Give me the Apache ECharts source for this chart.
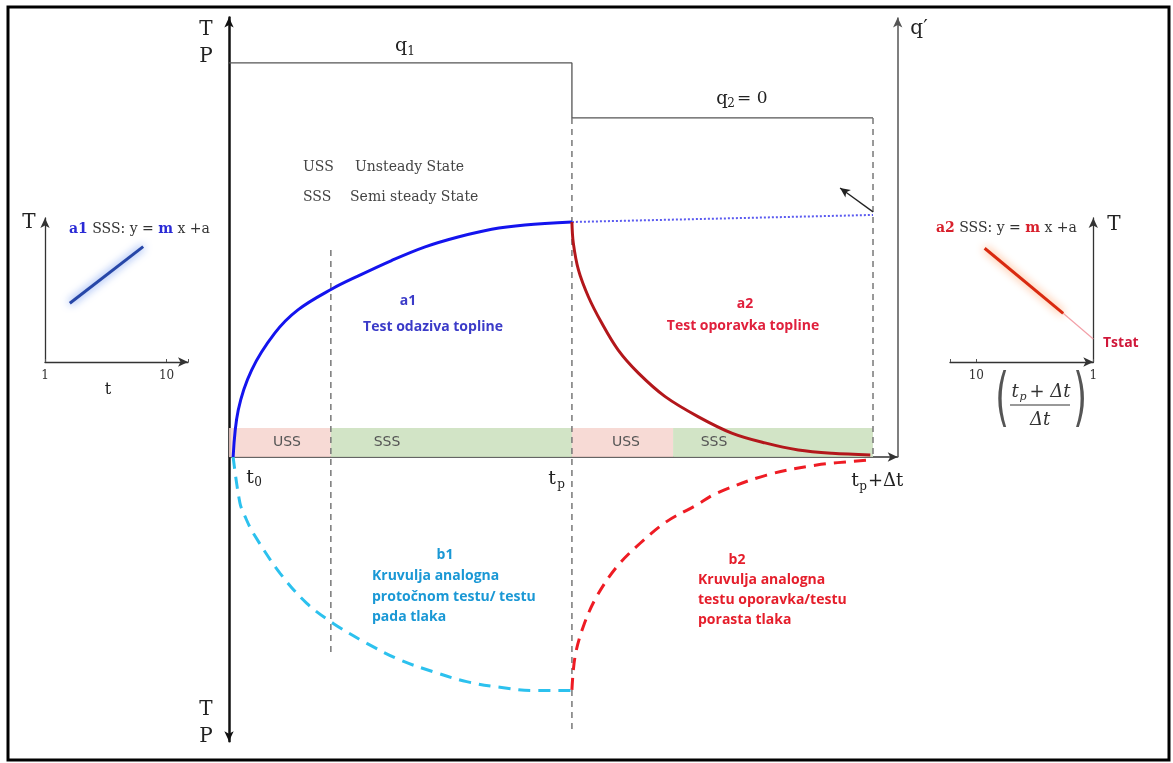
<!DOCTYPE html>
<html><head><meta charset="utf-8">
<script src="https://cdn.jsdelivr.net/npm/echarts@6/dist/echarts.min.js"></script>
<style>html,body{margin:0;padding:0;background:#fff}#c{width:1173px;height:763px}</style>
</head><body><div id="c"></div><script>
// ---------------- data (schematic units) ----------------
const T_P = 100;            // end of heating (tp)
const T_END = 187.8;        // tp + Δt
const T_SSS1 = 29.7;        // USS -> SSS during heating
const T_SSS2 = 129.5;       // USS -> SSS during recovery
const Q1_LEVEL = 167.7;
const Q2_LEVEL = 144.3;
const BAND_H = 12.3;

const qSchedule = [[0, Q1_LEVEL], [T_P, Q1_LEVEL], [T_P, Q2_LEVEL], [T_END, Q2_LEVEL]];
const dividerSSS = [[T_SSS1, 88.1], [T_SSS1, -83.4]];
const dividerTp = [[T_P, Q2_LEVEL], [T_P, -116.2]];
const dividerEnd = [[T_END, Q2_LEVEL], [T_END, 0]];

const bandNames = ['USS', 'SSS', 'USS', 'SSS'];
const bandStarts = [0, T_SSS1, T_P, T_SSS2];
const bandEnds = [T_SSS1, T_P, T_SSS2, T_END];

const a1Curve = [[1.2,0],[2.7,20.0],[6.6,37.0],[13.4,52.8],[20.1,62.6],[30.0,71.5],[37.6,77.0],[47.4,83.6],[57.2,89.4],[66.8,93.6],[76.6,96.9],[86.3,98.7],[100,100]];
const a1Extension = [[100,100],[187.8,103]];
const a2Curve = [[100,100],[100.4,91.1],[101.9,79.6],[104.8,68.2],[108.7,57.0],[113.5,45.5],[119.4,35.7],[127.2,25.7],[136.9,17.1],[146.6,10.2],[156.3,6.0],[166.0,3.0],[175.8,1.6],[187,0.9]];
const b1Curve = [[1.2,0],[3.2,-19.7],[4.7,-25.4],[7.1,-32.5],[14.9,-49.5],[22.7,-62.3],[30.4,-70.8],[40.2,-79.3],[49.9,-86.4],[59.6,-91.4],[69.3,-95.6],[79.0,-98.0],[88.7,-99.4],[100,-99.4]];
const b2Curve = [[100,-99.1],[100.9,-85.0],[103.3,-72.2],[107.2,-59.4],[113.1,-46.7],[119.9,-36.7],[127.6,-27.5],[136.4,-20.4],[142.2,-15.4],[156.8,-7.7],[171.4,-3.4],[187,-1.3]];
const arrowNote = [[187.8,104.3],[178.2,114.5]];
const qPrimeAxis = [[195,0],[195,187]];

// insets: semi-log plots
const insetA1 = [[1.6,40.8],[6.42,80.1]];
const insetA2 = [[8.49,79],[1.81,33.8]];
const insetA2Extrap = [[1.81,33.8],[1,16]];
const insetTicks = [1, 10];

// ---------------- chart ----------------
const SERIF = '"DejaVu Serif"';
const SANS = '"Open Sans"';
function txt(x, y, text, font, fill, align, extra) {
  return Object.assign({
    type: 'text', x: x, y: y, silent: true, z: 100,
    style: { text: text, font: font, fill: fill || '#222',
      textAlign: align || 'center', textVerticalAlign: 'middle',
      align: align || 'center', verticalAlign: 'middle' }
  }, extra || {});
}

const chart = echarts.init(document.getElementById('c'), null, {renderer: 'canvas'});

const hidden = {show: false};
const tickLabelFmt = v => (insetTicks.some(t => Math.abs(v - t) < 1e-6) ? String(Math.round(v)) : '');

const bandColors = {USS: 'rgba(246,212,206,0.85)', SSS: 'rgba(205,225,192,0.9)'};
const bandAreas = bandNames.map((n, i) => [
  {xAxis: bandStarts[i], yAxis: 0, itemStyle: {color: bandColors[n]}},
  {xAxis: bandEnds[i], yAxis: BAND_H}
]);

function lineS(data, color, width, type, z, extra) {
  return Object.assign({
    type: 'line', data: data, xAxisIndex: 0, yAxisIndex: 0, symbol: 'none', silent: true,
    lineStyle: {color: color, width: width, type: type || 'solid'}, z: z || 3, animation: false
  }, extra || {});
}

const option = {
  animation: false,
  backgroundColor: '#fff',
  grid: [
    {left: 229, top: 17.55, width: 668.7, height: 723.8},
    {left: 45, top: 218, width: 143, height: 144},
    {left: 950, top: 218, width: 143.3, height: 144}
  ],
  xAxis: [
    {type: 'value', gridIndex: 0, min: 0, max: 195,
      axisLine: {show: true, onZero: true, symbol: ['none', 'arrow'], symbolSize: [7, 10], lineStyle: {color: '#333', width: 1.5}},
      axisTick: hidden, axisLabel: hidden, splitLine: hidden},
    {type: 'log', logBase: 10, gridIndex: 1, min: 1, max: 15,
      axisLine: {show: true, onZero: false, symbol: ['none', 'arrow'], symbolSize: [7, 10], lineStyle: {color: '#333', width: 1.3}},
      axisTick: {show: true, inside: true, length: 3, lineStyle: {color: '#555'}},
      axisLabel: {formatter: tickLabelFmt, fontFamily: 'DejaVu Serif', fontSize: 12, color: '#333', margin: 8},
      splitLine: hidden, minorTick: hidden},
    {type: 'log', logBase: 10, gridIndex: 2, min: 1, max: 16.8, inverse: true,
      axisLine: {show: true, onZero: false, symbol: ['none', 'arrow'], symbolSize: [7, 10], lineStyle: {color: '#333', width: 1.3}},
      axisTick: {show: true, inside: true, length: 3, lineStyle: {color: '#555'}},
      axisLabel: {formatter: tickLabelFmt, fontFamily: 'DejaVu Serif', fontSize: 12, color: '#333', margin: 8},
      splitLine: hidden, minorTick: hidden}
  ],
  yAxis: [
    {type: 'value', gridIndex: 0, min: -121, max: 187,
      axisLine: {show: true, onZero: false, symbol: ['arrow', 'arrow'], symbolSize: [7, 10], lineStyle: {color: '#111', width: 2.5}},
      axisTick: hidden, axisLabel: hidden, splitLine: hidden},
    {type: 'value', gridIndex: 1, min: 0, max: 100, position: 'left',
      axisLine: {show: true, onZero: false, symbol: ['none', 'arrow'], symbolSize: [7, 10], lineStyle: {color: '#333', width: 1.3}},
      axisTick: hidden, axisLabel: hidden, splitLine: hidden},
    {type: 'value', gridIndex: 2, min: 0, max: 100, position: 'right',
      axisLine: {show: true, onZero: false, symbol: ['none', 'arrow'], symbolSize: [7, 10], lineStyle: {color: '#333', width: 1.3}},
      axisTick: hidden, axisLabel: hidden, splitLine: hidden}
  ],
  series: [
    // state bands
    lineS([], '#000', 0, 'solid', 1, {markArea: {silent: true, data: bandAreas, label: hidden}}),
    // heating schedule q1 / q2
    lineS(qSchedule, '#555', 1.3, 'solid', 2),
    lineS(dividerSSS, '#777', 1.5, [6, 5], 2),
    lineS(dividerTp, '#777', 1.5, [6, 5], 2),
    lineS(dividerEnd, '#777', 1.5, [6, 5], 2),
    // curves
    lineS(a1Extension, '#5a5af0', 2, [2, 2], 3),
    lineS(b1Curve, '#2cc1ee', 3, [12, 8], 4, {smooth: 0.35}),
    lineS(b2Curve, '#ee1c24', 3, [12, 8], 4, {smooth: 0.35}),
    lineS(a1Curve, '#1414ee', 3, 'solid', 5, {smooth: 0.35}),
    lineS(a2Curve, '#b3171b', 3, 'solid', 5, {smooth: 0.35}),
    // annotation arrow and q' axis
    lineS([], '#000', 0, 'solid', 6, {markLine: {silent: true, symbol: ['none', 'arrow'], symbolSize: [7, 10], label: hidden,
      data: [
        [{coord: arrowNote[0], lineStyle: {color: '#222', width: 1.3, type: 'solid'}}, {coord: arrowNote[1]}],
        [{coord: qPrimeAxis[0], lineStyle: {color: '#555', width: 1.5, type: 'solid'}}, {coord: qPrimeAxis[1]}]
      ]}}),
    // insets
    {type: 'line', xAxisIndex: 1, yAxisIndex: 1, data: insetA1, symbol: 'none', silent: true, z: 5,
      lineStyle: {color: '#2747a8', width: 3, shadowColor: 'rgba(70,120,235,0.95)', shadowBlur: 9}},
    {type: 'line', xAxisIndex: 2, yAxisIndex: 2, data: insetA2Extrap, symbol: 'none', silent: true, z: 4,
      lineStyle: {color: '#f2a0a8', width: 1.2}},
    {type: 'line', xAxisIndex: 2, yAxisIndex: 2, data: insetA2, symbol: 'none', silent: true, z: 5,
      lineStyle: {color: '#d92a10', width: 3, shadowColor: 'rgba(255,140,70,0.95)', shadowBlur: 9}}
  ],
  graphic: [
    {type: 'rect', silent: true, z: 200, shape: {x: 8, y: 7, width: 1161, height: 753},
      style: {fill: 'none', stroke: '#000', lineWidth: 3}},
    // main axis labels
    txt(206, 30, 'T', '20px ' + SERIF),
    txt(206, 57, 'P', '20px ' + SERIF),
    txt(206, 710, 'T', '20px ' + SERIF),
    txt(206, 737, 'P', '20px ' + SERIF),
    txt(919, 29, 'q\u2032', '20px ' + SERIF),
    txt(401, 46, 'q', '19px ' + SERIF),
    txt(411, 52, '1', '12px ' + SERIF),
    txt(722, 99, 'q', '18px ' + SERIF),
    txt(731, 104, '2', '12px ' + SERIF),
    txt(737, 99, '= 0', '17px ' + SERIF, '#222', 'left'),
    // legend of states
    txt(303, 167, 'USS', '14px ' + SERIF, '#444', 'left'),
    txt(355, 167, 'Unsteady State', '14px ' + SERIF, '#444', 'left'),
    txt(303, 197, 'SSS', '14px ' + SERIF, '#444', 'left'),
    txt(350, 197, 'Semi steady State', '14px ' + SERIF, '#444', 'left'),
    // band labels
    txt(287, 442, bandNames[0], '14px "DejaVu Sans"', '#555'),
    txt(387, 442, bandNames[1], '14px "DejaVu Sans"', '#555'),
    txt(626, 442, bandNames[2], '14px "DejaVu Sans"', '#555'),
    txt(714, 442, bandNames[3], '14px "DejaVu Sans"', '#555'),
    // time marks
    txt(250, 478, 't', '19px ' + SERIF),
    txt(258, 483, '0', '12px ' + SERIF),
    txt(552, 479, 't', '19px ' + SERIF),
    txt(561, 485, 'p', '12px ' + SERIF),
    txt(855, 481, 't', '19px ' + SERIF),
    txt(863, 487, 'p', '12px ' + SERIF),
    txt(868, 481, '+\u0394t', '18px ' + SERIF, '#222', 'left'),
    // curve descriptions
    txt(408, 301, 'a1', 'bold 14px ' + SANS, '#3b3bc8'),
    txt(433, 327, 'Test odaziva topline', 'bold 14px ' + SANS, '#3b3bc8'),
    txt(745, 304, 'a2', 'bold 14px ' + SANS, '#e0203c'),
    txt(743, 326, 'Test oporavka topline', 'bold 14px ' + SANS, '#e0203c'),
    txt(445, 555, 'b1', 'bold 14px ' + SANS, '#1a98d5'),
    txt(372, 576, 'Kruvulja analogna', 'bold 14px ' + SANS, '#1a98d5', 'left'),
    txt(372, 597, 'protočnom testu/ testu', 'bold 14px ' + SANS, '#1a98d5', 'left'),
    txt(372, 617, 'pada tlaka', 'bold 14px ' + SANS, '#1a98d5', 'left'),
    txt(737, 560, 'b2', 'bold 14px ' + SANS, '#e51e2b'),
    txt(698, 580, 'Kruvulja analogna', 'bold 14px ' + SANS, '#e51e2b', 'left'),
    txt(698, 600, 'testu oporavka/testu', 'bold 14px ' + SANS, '#e51e2b', 'left'),
    txt(698, 620, 'porasta tlaka', 'bold 14px ' + SANS, '#e51e2b', 'left'),
    // left inset
    txt(29, 223, 'T', '20px ' + SERIF),
    txt(108, 390, 't', '16px ' + SERIF),
    {type: 'text', x: 69, y: 229, silent: true, z: 100,
      style: {text: '{b|a1} SSS: y = {b|m} x +a', font: '14px ' + SERIF, fill: '#333',
        textAlign: 'left', textVerticalAlign: 'middle', align: 'left', verticalAlign: 'middle',
        rich: {b: {fill: '#2a2ad6', color: '#2a2ad6', fontWeight: 'bold', fontSize: 14, fontFamily: 'DejaVu Serif'}}}},
    // right inset
    {type: 'text', x: 936, y: 228, silent: true, z: 100,
      style: {text: '{r|a2} SSS: y = {r|m} x +a', font: '14px ' + SERIF, fill: '#333',
        textAlign: 'left', textVerticalAlign: 'middle', align: 'left', verticalAlign: 'middle',
        rich: {r: {fill: '#d8202c', color: '#d8202c', fontWeight: 'bold', fontSize: 14, fontFamily: 'DejaVu Serif'}}}},
    txt(1114, 225, 'T', '20px ' + SERIF),
    txt(1103, 343, 'Tstat', 'bold 14px ' + SANS, '#d0183a', 'left'),
    // fraction (tp + Δt)/Δt
    txt(1002, 402, '(', '64px "DejaVu Sans"', '#555', 'center', {scaleX: 0.55}),
    txt(1080, 402, ')', '64px "DejaVu Sans"', '#555', 'center', {scaleX: 0.55}),
    txt(1015, 392, 't', 'italic 18px ' + SERIF, '#333'),
    txt(1023, 397, 'p', 'italic 11px ' + SERIF, '#333'),
    txt(1050, 392, '+ \u0394t', 'italic 18px ' + SERIF, '#333'),
    {type: 'line', silent: true, z: 100, shape: {x1: 1010, y1: 405, x2: 1070, y2: 405}, style: {stroke: '#333', lineWidth: 1}},
    txt(1040, 420, '\u0394t', 'italic 18px ' + SERIF, '#333')
  ]
};
chart.setOption(option);
</script></body></html>
